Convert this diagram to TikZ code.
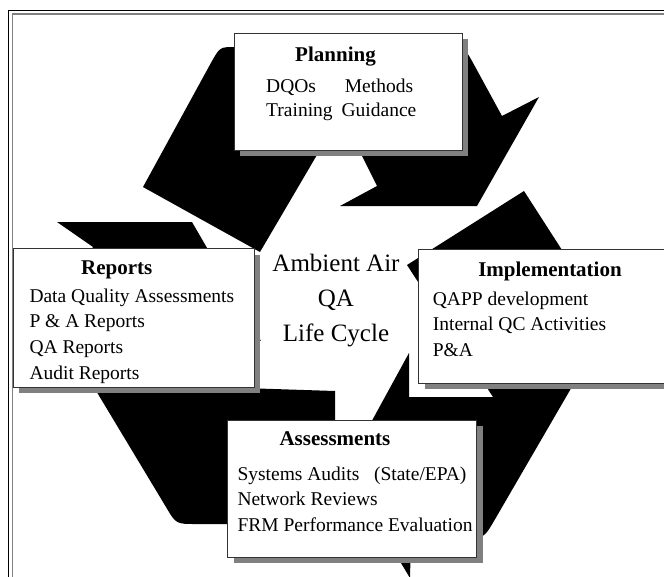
\documentclass[tikz,border=0pt]{standalone}
\usepackage{fontspec}
\setmainfont{Liberation Serif}
\usetikzlibrary{shadows}

\begin{document}
\begin{tikzpicture}
[x=1pt,y=-1pt,
 cyclearrow/.style={fill=black},
 panel/.style={shape=rectangle,draw=black!80,line width=0.9pt,fill=white,
   anchor=north west,inner sep=0pt,
   drop shadow={shadow xshift=6pt,shadow yshift=-6pt,fill=black!50,opacity=1}},
 heading/.style={anchor=base,inner sep=0pt,font=\fontsize{21}{25}\selectfont\bfseries},
 entries/.style={anchor=base west,inner sep=0pt,font=\fontsize{19.5}{25.9}\selectfont},
 hub/.style={anchor=base,inner sep=0pt,font=\fontsize{25}{35}\selectfont}]

\useasboundingbox (0,0) rectangle (664,576);
\clip (0,0) rectangle (664,576);

% double frame
\draw [line width=1.2pt] (8.5,10.5) rectangle (690,600);
\draw [black!50,line width=1.5pt] (12.5,14.2) rectangle (690,600);

% the three chasing arrows
\fill [cyclearrow] (260,252) -- (143,187) -- (212,61) .. controls (220,47) .. (236,47)
	-- (448,47) .. controls (464,47) .. (472,61) -- (502,116) -- (539,97)
	-- (477,206) -- (340,206) -- (377,186) -- (341,114) -- cycle;

\fill [cyclearrow] (407,265) -- (524,191) -- (609,323) -- (494,521)
	.. controls (484,538) .. (464,538) -- (411,538) -- (410,578)
	-- (345,470) -- (409,353) -- (409,397) -- (493,397) -- cycle;

\fill [cyclearrow] (335,391) -- (335,524) -- (196,524) .. controls (176,524) .. (166,507)
	-- (51,316) -- (93,247) -- (57,222) -- (192,222) -- (261,341)
	-- (225,319) -- (181,386) -- cycle;

% boxes
\node (plan) [panel,minimum width=228pt,minimum height=117pt] at (233.5,32.5) {};
\node (rep) [panel,minimum width=241pt,minimum height=138.5pt] at (12.5,248.3) {};
\node (impl) [panel,minimum width=280pt,minimum height=133.5pt] at (418.3,249) {};
\node (assess) [panel,minimum width=249pt,minimum height=136.7pt] at (227.3,420) {};

% texts
\node (plantitle) [heading] at (335.5,61.7) {Planning};
\node (planitems) [entries] at (266,92.7)
	{\fontsize{19.5}{24}\selectfont\begin{tabular}[t]{@{}l@{\hspace{9pt}}c@{}}
	DQOs & Methods\\ Training & Guidance\end{tabular}};

\node (reptitle) [heading] at (116.7,274) {Reports};
\node (repitems) [entries] at (29.3,302)
	{\begin{tabular}[t]{@{}l@{}}Data Quality Assessments\\ P \& A Reports\\
	QA Reports\\ Audit Reports\end{tabular}};

\node (impltitle) [heading] at (550,276) {Implementation};
\node (implitems) [entries] at (432.7,305)
	{\begin{tabular}[t]{@{}l@{}}QAPP development\\ Internal QC Activities\\
	P\&A\end{tabular}};

\node (assesstitle) [heading] at (335,445) {Assessments};
\node (assessitems) [entries] at (237.3,480)
	{\begin{tabular}[t]{@{}l@{}}Systems Audits\hspace{0.75em}(State/EPA)\\
	Network Reviews\\ FRM Performance Evaluation\end{tabular}};

\node (hub) [hub] at (336,271)
	{\begin{tabular}[t]{@{}c@{}}Ambient Air\\ QA\\ Life Cycle\end{tabular}};

\end{tikzpicture}
\end{document}
